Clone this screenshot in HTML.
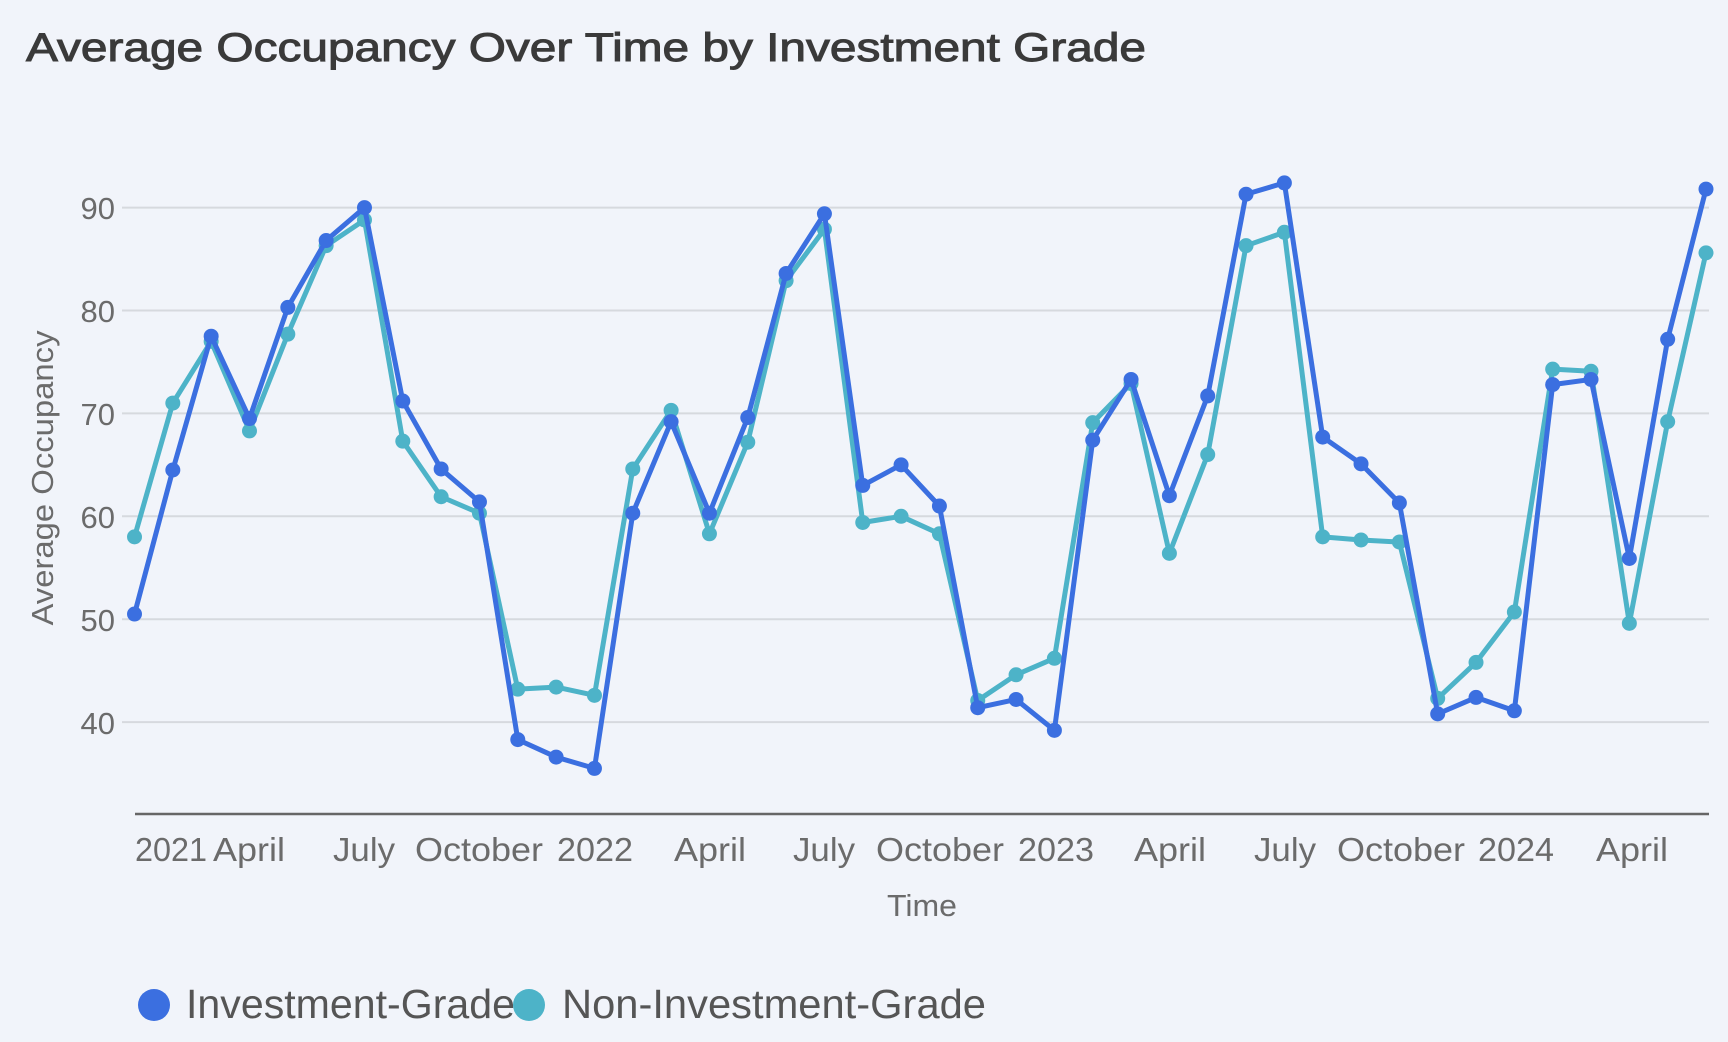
<!DOCTYPE html>
<html><head><meta charset="utf-8"><style>
html,body{margin:0;padding:0;background:#f1f4fa;}
svg{display:block;font-family:"Liberation Sans",sans-serif;}
</style></head><body>
<svg id="c" width="1728" height="1042" viewBox="0 0 1728 1042" xmlns="http://www.w3.org/2000/svg">
<rect width="1728" height="1042" fill="#f1f4fa"/>
<text x="26" y="61" font-size="40" fill="#3a3a3a" stroke="#3a3a3a" stroke-width="1" textLength="1120" lengthAdjust="spacingAndGlyphs">Average Occupancy Over Time by Investment Grade</text>
<g stroke="#d6d9de" stroke-width="2">
<line x1="122" x2="1709" y1="207.6" y2="207.6"/>
<line x1="122" x2="1709" y1="310.5" y2="310.5"/>
<line x1="122" x2="1709" y1="413.4" y2="413.4"/>
<line x1="122" x2="1709" y1="516.3" y2="516.3"/>
<line x1="122" x2="1709" y1="619.2" y2="619.2"/>
<line x1="122" x2="1709" y1="722.1" y2="722.1"/>
</g>
<line x1="135" x2="1709" y1="814" y2="814" stroke="#666" stroke-width="2.5"/>
<g font-size="31" fill="#6b6b6b" text-anchor="end">
<text x="115" y="219">90</text>
<text x="115" y="322">80</text>
<text x="115" y="425">70</text>
<text x="115" y="528">60</text>
<text x="115" y="631">50</text>
<text x="115" y="734">40</text>
</g>
<text transform="translate(53,478) rotate(-90)" font-size="31" fill="#6b6b6b" text-anchor="middle" textLength="295" lengthAdjust="spacingAndGlyphs">Average Occupancy</text>
<g font-size="33" fill="#6b6b6b" text-anchor="middle">
<text x="171" y="861" textLength="72" lengthAdjust="spacingAndGlyphs">2021</text>
<text x="249" y="861" textLength="72" lengthAdjust="spacingAndGlyphs">April</text>
<text x="364" y="861" textLength="62" lengthAdjust="spacingAndGlyphs">July</text>
<text x="479" y="861" textLength="128" lengthAdjust="spacingAndGlyphs">October</text>
<text x="595" y="861" textLength="76" lengthAdjust="spacingAndGlyphs">2022</text>
<text x="710" y="861" textLength="72" lengthAdjust="spacingAndGlyphs">April</text>
<text x="824" y="861" textLength="62" lengthAdjust="spacingAndGlyphs">July</text>
<text x="940" y="861" textLength="128" lengthAdjust="spacingAndGlyphs">October</text>
<text x="1056" y="861" textLength="76" lengthAdjust="spacingAndGlyphs">2023</text>
<text x="1170" y="861" textLength="72" lengthAdjust="spacingAndGlyphs">April</text>
<text x="1285" y="861" textLength="62" lengthAdjust="spacingAndGlyphs">July</text>
<text x="1401" y="861" textLength="128" lengthAdjust="spacingAndGlyphs">October</text>
<text x="1516" y="861" textLength="76" lengthAdjust="spacingAndGlyphs">2024</text>
<text x="1632" y="861" textLength="72" lengthAdjust="spacingAndGlyphs">April</text>
</g>
<text x="922" y="916" font-size="31" fill="#6b6b6b" text-anchor="middle" textLength="70" lengthAdjust="spacingAndGlyphs">Time</text>
<circle cx="154" cy="1005" r="16" fill="#3b6fe0"/>
<text x="186" y="1018" font-size="41" fill="#555" textLength="329" lengthAdjust="spacingAndGlyphs">Investment-Grade</text>
<circle cx="529" cy="1005" r="16" fill="#4db3c8"/>
<text x="562" y="1018" font-size="41" fill="#555" textLength="424" lengthAdjust="spacingAndGlyphs">Non-Investment-Grade</text>
<g id="series"></g>
</svg>
<script>
var B=[50.5,64.5,77.5,69.5,80.3,86.8,90,71.2,64.6,61.4,38.3,36.6,35.5,60.3,69.2,60.3,69.6,83.6,89.4,63,65,61,41.4,42.2,39.2,67.4,73.3,62,71.7,91.3,92.4,67.7,65.1,61.3,40.8,42.4,41.1,72.8,73.3,55.9,77.2,91.8];
var G=[58,71,77,68.3,77.7,86.3,88.8,67.3,61.9,60.3,43.2,43.4,42.6,64.6,70.3,58.3,67.2,82.9,87.9,59.4,60,58.3,42.1,44.6,46.2,69.1,72.9,56.4,66,86.3,87.6,58,57.7,57.5,42.3,45.8,50.7,74.3,74.1,49.6,69.2,85.6];
var ns="http://www.w3.org/2000/svg",g=document.getElementById("series");
function X(i){return 134.5+i*(1706-134.5)/41;}
function Y(v){return 207.6+(90-v)*10.29;}
function draw(d,col){
 var p=document.createElementNS(ns,"polyline");
 p.setAttribute("points",d.map(function(v,i){return X(i)+","+Y(v)}).join(" "));
 p.setAttribute("fill","none");p.setAttribute("stroke",col);p.setAttribute("stroke-width","5");p.setAttribute("stroke-linejoin","round");
 g.appendChild(p);
 d.forEach(function(v,i){var c=document.createElementNS(ns,"circle");c.setAttribute("cx",X(i));c.setAttribute("cy",Y(v));c.setAttribute("r","7.5");c.setAttribute("fill",col);g.appendChild(c);});
}
draw(G,"#4db3c8");draw(B,"#3b6fe0");
</script>
</body></html>
